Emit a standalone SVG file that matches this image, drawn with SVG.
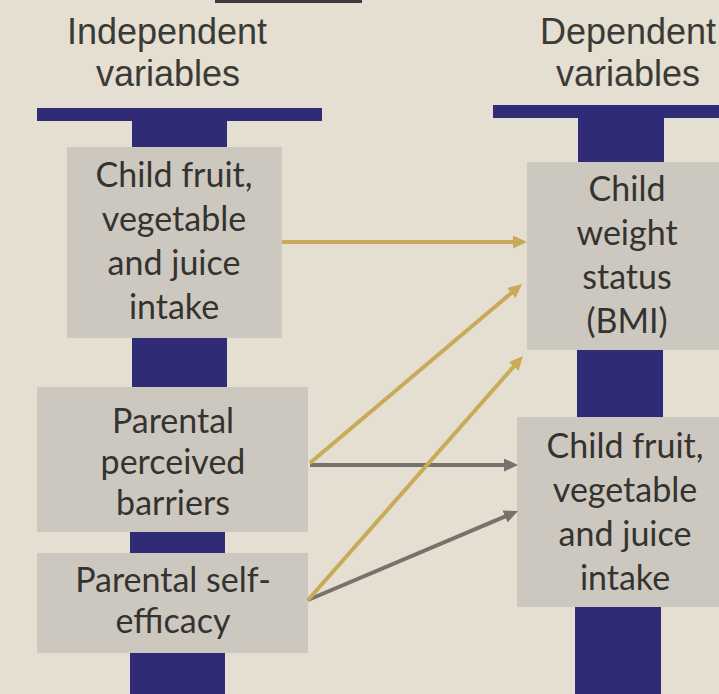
<svg xmlns="http://www.w3.org/2000/svg" width="719" height="694" viewBox="0 0 719 694">
<style>
.bg{fill:#e4dfd1}
.bar{fill:#2f2b76}
.box{fill:#ccc8c0}
.hdr{font-family:"Liberation Sans",Arial,sans-serif;font-size:36px;fill:#3b3a37;text-anchor:middle}
.lbl{font-family:Lato,"Open Sans",sans-serif;font-size:34px;fill:#35332f;text-anchor:middle}
.gold{stroke:#c9aa58;stroke-width:4;fill:none}
.gray{stroke:#77736c;stroke-width:4;fill:none}
</style>
<defs>
<marker id="ahGold" markerUnits="userSpaceOnUse" markerWidth="16" markerHeight="14" refX="4" refY="6.5" orient="auto"><path d="M0,0 L14,6.5 L0,13 z" fill="#c9aa58"/></marker>
<marker id="ahGray" markerUnits="userSpaceOnUse" markerWidth="16" markerHeight="14" refX="4" refY="6.5" orient="auto"><path d="M0,0 L14,6.5 L0,13 z" fill="#77736c"/></marker>
</defs>
<rect class="bg" x="0" y="0" width="719" height="694"/>
<rect x="215" y="0" width="147" height="3" fill="#3b3a40"/>
<g id="headers">
<text class="hdr" x="167" y="44">Independent</text>
<text class="hdr" x="168" y="86">variables</text>
<text class="hdr" x="628" y="44">Dependent</text>
<text class="hdr" x="628" y="86">variables</text>
</g>
<g id="columns">
<rect class="bar" x="37" y="108" width="285" height="13"/>
<rect class="bar" x="132" y="121" width="95" height="27"/>
<rect class="bar" x="132" y="337" width="95" height="50"/>
<rect class="bar" x="130" y="531" width="95" height="23"/>
<rect class="bar" x="130" y="652" width="95" height="42"/>
<rect class="bar" x="493" y="105" width="226" height="13"/>
<rect class="bar" x="578" y="117" width="86" height="46"/>
<rect class="bar" x="577" y="349" width="86" height="69"/>
<rect class="bar" x="575" y="606" width="86" height="88"/>
</g>
<g id="iv-fruit">
<rect class="box" x="67" y="147" width="215" height="191"/>
<text class="lbl" x="174" y="187">Child fruit,</text>
<text class="lbl" x="174" y="231">vegetable</text>
<text class="lbl" x="174" y="275">and juice</text>
<text class="lbl" x="174" y="319">intake</text>
</g>
<g id="iv-barriers">
<rect class="box" x="37" y="387" width="271" height="145"/>
<text class="lbl" x="173" y="433">Parental</text>
<text class="lbl" x="173" y="474">perceived</text>
<text class="lbl" x="173" y="515">barriers</text>
</g>
<g id="iv-efficacy">
<rect class="box" x="37" y="553" width="271" height="100"/>
<text class="lbl" x="173" y="592">Parental self-</text>
<text class="lbl" x="173" y="633">efficacy</text>
</g>
<g id="dv-bmi">
<rect class="box" x="527" y="162" width="200" height="188"/>
<text class="lbl" x="627" y="201">Child</text>
<text class="lbl" x="627" y="245">weight</text>
<text class="lbl" x="627" y="289">status</text>
<text class="lbl" x="627" y="333">(BMI)</text>
</g>
<g id="dv-fruit">
<rect class="box" x="517" y="417" width="210" height="190"/>
<text class="lbl" x="625" y="458">Child fruit,</text>
<text class="lbl" x="625" y="502">vegetable</text>
<text class="lbl" x="625" y="546">and juice</text>
<text class="lbl" x="625" y="590">intake</text>
</g>
<g id="connectors">
<line class="gray" x1="310" y1="465" x2="508" y2="465" marker-end="url(#ahGray)"/>
<line class="gray" x1="308" y1="600" x2="508.8" y2="514.9" marker-end="url(#ahGray)"/>
<line class="gold" x1="282" y1="242" x2="517" y2="242" marker-end="url(#ahGold)"/>
<line class="gold" x1="310" y1="463" x2="514.4" y2="290.4" marker-end="url(#ahGold)"/>
<line class="gold" x1="308" y1="600" x2="516.4" y2="363.5" marker-end="url(#ahGold)"/>
</g>
</svg>
